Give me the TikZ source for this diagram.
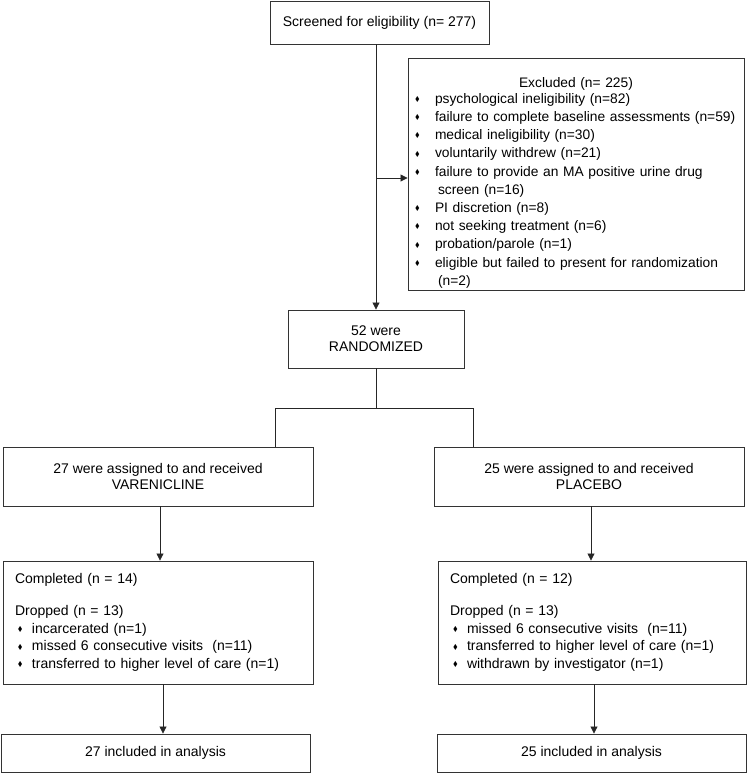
\documentclass[tikz,border=0pt]{standalone}
\usepackage{amssymb}
\usepackage{fontspec}
\setmainfont{Liberation Sans}
\usetikzlibrary{calc,positioning,arrows.meta}

\newcommand{\bul}[1][14pt]{\hspace*{3pt}\makebox[#1][l]{\raisebox{1.8pt}{\scalebox{0.5}{$\blacklozenge$}}}}

\begin{document}
\begin{tikzpicture}[x=1pt,y=-1pt,>={Triangle[length=7pt,width=7pt]}]

  \tikzstyle{block} = [draw=black!80, rectangle, line width=0.9pt, inner sep=0pt, align=center, font=\fontsize{14}{16}\selectfont]
  \tikzstyle{list} = [block, align=left, font=\fontsize{14}{17.7}\selectfont]

  \useasboundingbox (0,0) rectangle (747,774);

  \node[block, minimum width=219pt, minimum height=43pt] (screen) at (379.5,22.5) {Screened for eligibility (n= 277)};

  \node[list, text width=328pt, inner xsep=4pt, minimum height=232pt, font=\fontsize{13.8}{18.2}\selectfont] (excl) at (576,174)
  {\centering\rule{0pt}{28pt}Excluded (n= 225)\par\vspace{-2.6pt}\raggedright
   \bul[20pt]psychological ineligibility (n=82)\\
   \mbox{\bul[20pt]failure to complete baseline assessments (n=59)}\\
   \bul[20pt]medical ineligibility (n=30)\\
   \bul[20pt]voluntarily withdrew (n=21)\\
   \mbox{\bul[20pt]failure to provide an MA positive urine drug}\\
   \hspace*{26pt}screen (n=16)\\
   \bul[20pt]PI discretion (n=8)\\
   \bul[20pt]not seeking treatment (n=6)\\
   \bul[20pt]probation/parole (n=1)\\
   \mbox{\bul[20pt]eligible but failed to present for randomization}\\
   \hspace*{26pt}(n=2)};

  \node[block, minimum width=176pt, minimum height=58pt] (rand) at (376,339) {52 were\\RANDOMIZED};

  \node[block, minimum width=310pt, minimum height=59pt] (vare) at (158,476.5) {27 were assigned to and received\\VARENICLINE};
  \node[block, minimum width=310pt, minimum height=59pt] (plac) at (589,476.5) {25 were assigned to and received\\PLACEBO};

  \node[list, text width=286pt, inner xsep=12pt, minimum height=123pt] (vcomp) at (158,622.5)
  {Completed (n = 14)\\[14pt]
   Dropped (n = 13)\\
   \bul incarcerated (n=1)\\
   \bul missed 6 consecutive visits~ (n=11)\\
   \bul transferred to higher level of care (n=1)};
  \node[list, text width=284pt, inner xsep=12pt, minimum height=123pt] (pcomp) at (592,622.5)
  {Completed (n = 12)\\[14pt]
   Dropped (n = 13)\\
   \bul missed 6 consecutive visits~ (n=11)\\
   \bul transferred to higher level of care (n=1)\\
   \bul withdrawn by investigator (n=1)};

  \node[block, minimum width=309pt, minimum height=38pt] (vanal) at (155.5,753) {27 included in analysis};
  \node[block, minimum width=309pt, minimum height=38pt] (panal) at (591.5,753) {25 included in analysis};

  \coordinate (split) at ($(rand.south)+(0,40)$);
  \coordinate (lft) at (275,408);
  \coordinate (rgt) at (473,408);

  \draw[->,color=black!85,thick] (screen.south -| rand.north) -- (rand.north);
  \draw[->,color=black!85,thick] (rand.north |- excl.west) ++(0,4) -- ([yshift=-4pt]excl.west);
  \draw[-,color=black!85,thick] (rand.south) -- (split);
  \draw[-,color=black!85,thick] (lft) -- (rgt);
  \draw[-,color=black!85,thick] (lft) -- (lft |- vare.north);
  \draw[-,color=black!85,thick] (rgt) -- (rgt |- plac.north);
  \draw[->,color=black!85,thick] ([xshift=2pt]vare.south) -- ([xshift=2pt]vare.south |- vcomp.north);
  \draw[->,color=black!85,thick] ([xshift=2pt]plac.south) -- ([xshift=2pt]plac.south |- pcomp.north);
  \draw[->,color=black!85,thick] ([xshift=5pt]vcomp.south) -- ([xshift=5pt]vcomp.south |- vanal.north);
  \draw[->,color=black!85,thick] ([xshift=2pt]pcomp.south) -- ([xshift=2pt]pcomp.south |- panal.north);

\end{tikzpicture}
\end{document}
